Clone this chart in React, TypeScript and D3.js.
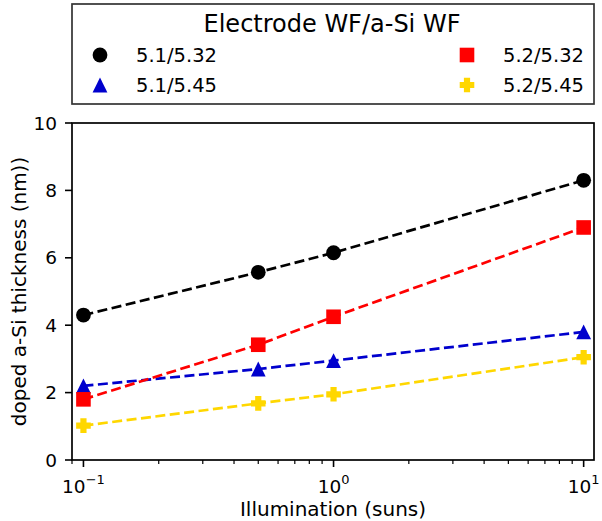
import React from "react";
import * as d3 from "d3";

const illumination = [0.1, 0.5, 1, 10];
const seriesNames = ["5.1/5.32", "5.1/5.45", "5.2/5.32", "5.2/5.45"];
const seriesColors = ["#000000", "#0000cd", "#ff0000", "#ffd700"];
const seriesMarkers = ["circle", "triangle", "square", "plus"];
const vals5132 = [4.3, 5.57, 6.15, 8.3];
const vals5145 = [2.2, 2.7, 2.95, 3.8];
const vals5232 = [1.8, 3.42, 4.25, 6.9];
const vals5245 = [1.02, 1.68, 1.95, 3.05];
const seriesValues = [vals5132, vals5145, vals5232, vals5245];
const yTicks = [0, 2, 4, 6, 8, 10];
const xMajorExps = [-1, 0, 1];
const xMinorTicks = [0.09, 0.2, 0.3, 0.4, 0.5, 0.6, 0.7, 0.8, 0.9, 2, 3, 4, 5, 6, 7, 8, 9];

const W = 602, H = 521;
const L = 72, R = 594, T = 123, B = 460;
const FONT = "'DejaVu Sans', sans-serif";

function Marker({ type, x, y, color }: { type: string; x: number; y: number; color: string }) {
  if (type === "circle") return <circle cx={x} cy={y} r={7.4} fill={color} />;
  if (type === "square") return <rect x={x - 7.3} y={y - 7.3} width={14.6} height={14.6} fill={color} />;
  if (type === "triangle") {
    const s = 7.4;
    return <path d={`M${x},${y - s} L${x + s},${y + s} L${x - s},${y + s}Z`} fill={color} />;
  }
  const a = 7.3, b = 3.1;
  return (
    <path
      d={`M${x - b},${y - a} H${x + b} V${y - b} H${x + a} V${y + b} H${x + b} V${y + a} H${x - b} V${y + b} H${x - a} V${y - b} H${x - b}Z`}
      fill={color}
    />
  );
}

export default function App() {
  const x = d3.scaleLog().domain([0.09, 11]).range([L, R]);
  const y = d3.scaleLinear().domain([0, 10]).range([B, T]);
  const line = d3
    .line<[number, number]>()
    .x((d) => x(d[0]))
    .y((d) => y(d[1]));

  const legendPos = [
    { x: 100, tx: 136, y: 55 },
    { x: 100, tx: 136, y: 85 },
    { x: 467, tx: 503, y: 55 },
    { x: 467, tx: 503, y: 85 },
  ];

  return (
    <svg width={W} height={H} style={{ position: "absolute", left: 0, top: 0 }} fontFamily={FONT}>
      <rect x={0} y={0} width={W} height={H} fill="#fff" />
      {seriesValues.map((vals, i) => (
        <path
          key={"l" + i}
          d={line(illumination.map((v, j) => [v, vals[j]] as [number, number])) || ""}
          fill="none"
          stroke={seriesColors[i]}
          strokeWidth={2.7}
          strokeDasharray="10,4.5"
        />
      ))}
      {seriesValues.map((vals, i) =>
        illumination.map((v, j) => (
          <Marker key={`m${i}-${j}`} type={seriesMarkers[i]} x={x(v)} y={y(vals[j])} color={seriesColors[i]} />
        ))
      )}
      <rect x={L} y={T} width={R - L} height={B - T} fill="none" stroke="#000" strokeWidth={1.7} />
      {yTicks.map((t) => (
        <g key={"y" + t}>
          <line x1={L - 7} x2={L} y1={y(t)} y2={y(t)} stroke="#000" strokeWidth={1.6} />
          <text x={L - 15} y={y(t)} dy="0.36em" textAnchor="end" fontSize={18.5}>
            {t}
          </text>
        </g>
      ))}
      {xMajorExps.map((e) => (
        <g key={"x" + e}>
          <line x1={x(Math.pow(10, e))} x2={x(Math.pow(10, e))} y1={B} y2={B + 7} stroke="#000" strokeWidth={1.6} />
          <text x={x(Math.pow(10, e))} y={B + 33} textAnchor="middle" fontSize={18.5}>
            10
            <tspan fontSize={13} dy={-9}>
              {e === -1 ? "\u22121" : String(e)}
            </tspan>
          </text>
        </g>
      ))}
      {xMinorTicks.map((t) => (
        <line key={"xm" + t} x1={x(t)} x2={x(t)} y1={B} y2={B + 4} stroke="#000" strokeWidth={1.2} />
      ))}
      <text x={(L + R) / 2} y={516} textAnchor="middle" fontSize={20}>
        Illumination (suns)
      </text>
      <text transform={`translate(${26},${(T + B) / 2}) rotate(-90)`} textAnchor="middle" fontSize={20}>
        doped a-Si thickness (nm))
      </text>
      <rect x={72} y={4} width={522} height={100} fill="#fff" stroke="#333" strokeWidth={1.7} />
      <text x={332} y={32} textAnchor="middle" fontSize={24}>
        Electrode WF/a-Si WF
      </text>
      {seriesNames.map((n, i) => (
        <g key={"lg" + i}>
          <Marker type={seriesMarkers[i]} x={legendPos[i].x} y={legendPos[i].y} color={seriesColors[i]} />
          <text x={legendPos[i].tx} y={legendPos[i].y} dy="0.36em" fontSize={19.5}>
            {n}
          </text>
        </g>
      ))}
    </svg>
  );
}
